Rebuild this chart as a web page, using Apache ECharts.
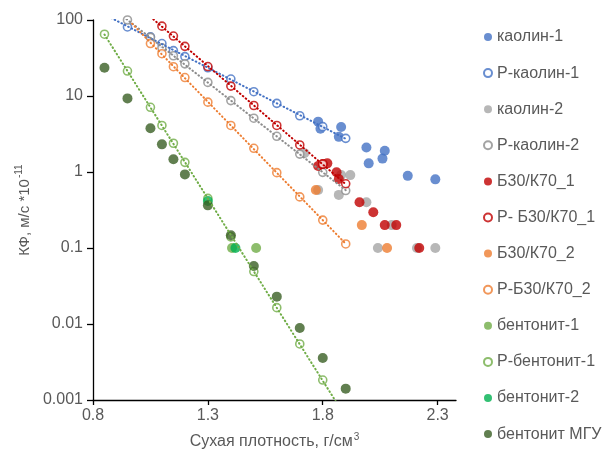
<!DOCTYPE html>
<html>
<head>
<meta charset="utf-8">
<script src="https://cdn.jsdelivr.net/npm/echarts@6/dist/echarts.min.js"></script>
<style>html,body{margin:0;padding:0;background:#fff}#c{width:613px;height:458px}</style>
</head>
<body>
<div id="c"></div>
<script>
// ---- data ----
var xTickLabels = [0.8, 1.3, 1.8, 2.3];
var yTickLabels = [0.001, 0.01, 0.1, 1, 10, 100];

var kaolin1X = [1.78, 1.79, 1.87, 1.88, 1.99, 2.0, 2.06, 2.07, 2.17, 2.29];
var kaolin1Y = [4.6, 3.7, 2.9, 3.9, 2.1, 1.3, 1.5, 1.9, 0.89, 0.80];

var rKaolin1X = [0.95, 1.05, 1.1, 1.15, 1.2, 1.3, 1.4, 1.5, 1.6, 1.7, 1.8, 1.9];
var rKaolin1Y = [81, 60, 49, 39.5, 33, 23.5, 16.7, 11.4, 8.0, 5.5, 3.95, 2.77];

var kaolin2X = [1.72, 1.78, 1.87, 1.88, 1.92, 1.99, 2.04, 2.1, 2.21, 2.29];
var kaolin2Y = [1.77, 0.58, 0.50, 0.91, 0.91, 0.40, 0.10, 0.20, 0.10, 0.10];

var rKaolin2X = [0.95, 1.05, 1.1, 1.15, 1.2, 1.3, 1.4, 1.5, 1.6, 1.7, 1.8, 1.9];
var rKaolin2Y = [100, 59, 43, 33.8, 26.5, 15.1, 8.7, 5.1, 2.95, 1.72, 0.99, 0.57];

var b30k70_1X = [1.78, 1.8, 1.82, 1.86, 1.87, 1.96, 2.02, 2.07, 2.12, 2.22];
var b30k70_1Y = [1.2, 1.27, 1.3, 0.99, 0.81, 0.40, 0.295, 0.20, 0.20, 0.10];

var rB30k70_1X = [1.1, 1.15, 1.2, 1.3, 1.4, 1.5, 1.6, 1.7, 1.8, 1.9];
var rB30k70_1Y = [83, 61.5, 45, 24.4, 13.5, 7.5, 4.1, 2.27, 1.27, 0.70];

var b30k70_2X = [1.77, 1.97, 2.08];
var b30k70_2Y = [0.58, 0.20, 0.10];

var rB30k70_2X = [1.05, 1.1, 1.15, 1.2, 1.3, 1.4, 1.5, 1.6, 1.7, 1.8, 1.9];
var rB30k70_2Y = [49, 36, 24.3, 17.5, 8.3, 4.1, 2.05, 0.98, 0.47, 0.233, 0.113];

var bent1X = [1.405, 1.51];
var bent1Y = [0.1, 0.1];

var rBent1X = [0.85, 0.95, 1.05, 1.1, 1.15, 1.2, 1.3, 1.4, 1.5, 1.6, 1.7, 1.8];
var rBent1Y = [65, 21.3, 7.1, 4.1, 2.39, 1.34, 0.45, 0.14, 0.049, 0.0164, 0.00546, 0.00183];

var bent2X = [1.3, 1.42];
var bent2Y = [0.415, 0.1];

var mguX = [0.85, 0.95, 1.05, 1.1, 1.15, 1.2, 1.3, 1.4, 1.5, 1.6, 1.7, 1.8, 1.9];
var mguY = [23.5, 9.3, 3.76, 2.31, 1.47, 0.93, 0.364, 0.147, 0.058, 0.0229, 0.00886, 0.00357, 0.00141];

// ---- styling / layout ----
var FONT = '"Liberation Sans", Arial, sans-serif';
var TXT = '#595959';

function pairs(xs, ys) { return xs.map(function (x, i) { return [x, ys[i]]; }); }

// exponential least-squares trend (as Excel does), drawn between x0..x1
function expTrend(xs, ys, x0, x1) {
  var n = xs.length, sx = 0, sy = 0, sxx = 0, sxy = 0;
  for (var i = 0; i < n; i++) {
    var ly = Math.log(ys[i]);
    sx += xs[i]; sy += ly; sxx += xs[i] * xs[i]; sxy += xs[i] * ly;
  }
  var b = (n * sxy - sx * sy) / (n * sxx - sx * sx);
  var a = (sy - b * sx) / n;
  return [[x0, Math.exp(a + b * x0)], [x1, Math.exp(a + b * x1)]];
}

var defs = [
  {name: 'каолин-1', xs: kaolin1X, ys: kaolin1Y, color: '#4472C4', open: false},
  {name: 'Р-каолин-1', xs: rKaolin1X, ys: rKaolin1Y, color: '#4472C4', open: true, trend: [0.85, 1.9]},
  {name: 'каолин-2', xs: kaolin2X, ys: kaolin2Y, color: '#A5A5A5', open: false},
  {name: 'Р-каолин-2', xs: rKaolin2X, ys: rKaolin2Y, color: '#8C8C8C', open: true, trend: [0.92, 1.9]},
  {name: 'Б30/К70_1', xs: b30k70_1X, ys: b30k70_1Y, color: '#C00000', open: false},
  {name: 'Р- Б30/К70_1', xs: rB30k70_1X, ys: rB30k70_1Y, color: '#C00000', open: true, trend: [1.0, 1.9]},
  {name: 'Б30/К70_2', xs: b30k70_2X, ys: b30k70_2Y, color: '#ED7D31', open: false},
  {name: 'Р-Б30/К70_2', xs: rB30k70_2X, ys: rB30k70_2Y, color: '#ED7D31', open: true, trend: [0.97, 1.9]},
  {name: 'бентонит-1', xs: bent1X, ys: bent1Y, color: '#70AD47', open: false},
  {name: 'Р-бентонит-1', xs: rBent1X, ys: rBent1Y, color: '#70AD47', open: true, trend: [0.85, 1.9]},
  {name: 'бентонит-2', xs: bent2X, ys: bent2Y, color: '#00B050', open: false},
  {name: 'бентонит МГУ', xs: mguX, ys: mguY, color: '#3A5F24', open: false}
];

var series = [];
defs.forEach(function (d) {
  series.push({
    name: d.name,
    type: 'scatter',
    symbol: 'circle',
    symbolSize: d.open ? 8 : 10,
    z: 2,
    itemStyle: d.open ? {color: '#ffffff', borderColor: d.color, borderWidth: 1.6}
                      : {color: d.color},
    data: pairs(d.xs, d.ys)
  });
});
defs.forEach(function (d) {
  if (!d.trend) return;
  series.push({
    type: 'line',
    silent: true,
    showSymbol: false,
    symbol: 'none',
    z: 3,
    clip: true,
    lineStyle: {color: d.color, width: 2, type: [0.6, 3.2], cap: 'round'},
    data: expTrend(d.xs, d.ys, d.trend[0], d.trend[1])
  });
});

var chart = echarts.init(document.getElementById('c'), null, {renderer: 'canvas'});
chart.setOption({
  animation: false,
  backgroundColor: '#ffffff',
  grid: {left: 93, right: 157, top: 20, bottom: 58, containLabel: false},
  legend: {
    orient: 'vertical',
    left: 478,
    top: 24,
    itemWidth: 8,
    itemHeight: 8,
    itemGap: 20.1,
    icon: 'circle',
    textStyle: {color: TXT, fontSize: 16, fontFamily: FONT, lineHeight: 16},
    data: defs.map(function (d) { return d.name; })
  },
  xAxis: {
    type: 'value',
    min: 0.8,
    max: 2.38,
    interval: 0.5,
    name: '{a|Сухая плотность, г/см}{b|3}',
    nameLocation: 'middle',
    nameGap: 32,
    nameTextStyle: {
      rich: {
        a: {fontSize: 16, fontFamily: FONT, color: TXT, lineHeight: 20},
        b: {fontSize: 10, fontFamily: FONT, color: TXT, lineHeight: 20, verticalAlign: 'top', padding: [0, 0, 0, 1]}
      }
    },
    axisLine: {show: true, lineStyle: {color: '#000000', width: 1.3}},
    axisTick: {show: true, length: 5, lineStyle: {color: '#000000', width: 1.3}, customValues: xTickLabels},
    axisLabel: {color: TXT, fontSize: 16, fontFamily: FONT, margin: 8, customValues: xTickLabels,
      formatter: function (v) { return String(Number(v.toFixed(1))); }},
    splitLine: {show: false}
  },
  yAxis: {
    type: 'log',
    logBase: 10,
    min: 0.001,
    max: 100,
    name: '{a|КФ, м/с *10}{b|-11}',
    nameLocation: 'middle',
    nameRotate: 90,
    nameGap: 52,
    nameTextStyle: {
      rich: {
        a: {fontSize: 15, fontFamily: FONT, color: TXT, lineHeight: 20},
        b: {fontSize: 10, fontFamily: FONT, color: TXT, lineHeight: 20, verticalAlign: 'top', padding: [0, 0, 0, 1]}
      }
    },
    axisLine: {show: true, lineStyle: {color: '#000000', width: 1.3}},
    axisTick: {show: true, length: 6, lineStyle: {color: '#000000', width: 1.3}},
    axisLabel: {color: TXT, fontSize: 16, fontFamily: FONT, margin: 10,
      formatter: function (v) {
        var best = yTickLabels[0];
        yTickLabels.forEach(function (t) { if (Math.abs(Math.log10(t) - Math.log10(v)) < Math.abs(Math.log10(best) - Math.log10(v))) best = t; });
        return String(best);
      }},
    splitLine: {show: false},
    minorTick: {show: false}
  },
  series: series
});
</script>
</body>
</html>
